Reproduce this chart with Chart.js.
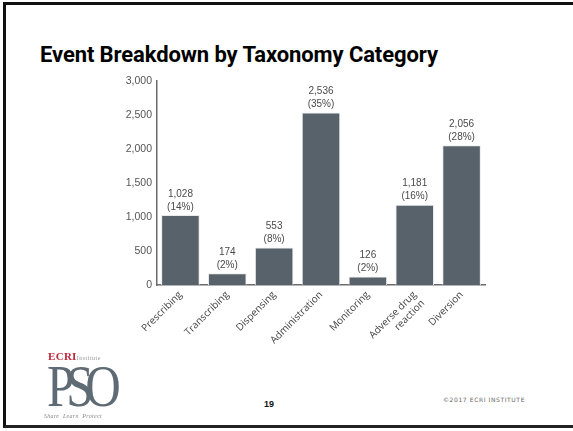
<!DOCTYPE html>
<html>
<head>
<meta charset="utf-8">
<script src="https://cdn.jsdelivr.net/npm/chart.js@4/dist/chart.umd.min.js"></script>
<style>
  html, body { margin: 0; padding: 0; background: #fff; }
  .slide { position: relative; width: 573px; height: 431px; overflow: hidden; background: #fff; }
  .frame { position: absolute; left: 3px; top: 2px; width: 580px; height: 420px; border-top: 3px solid #111; border-left: 3px solid #111; border-bottom: 3px solid #222; }
  .title { position: absolute; left: 40px; top: 42px; font: bold 22px Roboto, "Liberation Sans", sans-serif; color: #000; letter-spacing: -0.1px; }
  #wrap { position: absolute; left: 100px; top: 60px; width: 400px; height: 300px; }
  .page { position: absolute; left: 264px; top: 399px; font: bold 9px "Liberation Sans", Arial, sans-serif; color: #111; }
  .copy { position: absolute; left: 443px; top: 396px; font: 6px "DejaVu Sans", sans-serif; color: #666; letter-spacing: 0.6px; }
  .logo { position: absolute; left: 44px; top: 350px; width: 74px; }
  .ecri { font: bold 11px "Liberation Serif", serif; color: #c0273a; letter-spacing: 0.3px; margin-left: 4px; }
  .ecri span { font: 6px "Liberation Serif", serif; color: #999; font-weight: normal; letter-spacing: 0.5px; }
  .pso { font: 60px "Liberation Serif", serif; color: #5f6b74; line-height: 48px; letter-spacing: -10px; transform: scaleX(0.82); transform-origin: left top; margin-left: 3px; }
  .tag { font: italic 6px "Liberation Serif", serif; color: #888; margin-top: 3px; letter-spacing: 0.3px; }
</style>
</head>
<body>
<div class="slide">
  <div class="frame"></div>
  <div class="title">Event Breakdown by Taxonomy Category</div>
  <div id="wrap"><canvas id="bar"></canvas></div>
  <div class="logo">
    <div class="ecri">ECRI<span>Institute</span></div>
    <div class="pso">PSO</div>
    <div class="tag">Share &nbsp;Learn &nbsp;Protect</div>
  </div>
  <div class="page">19</div>
  <div class="copy">©2017 ECRI INSTITUTE</div>
</div>
<script>
const categories = ["Prescribing", "Transcribing", "Dispensing", "Administration", "Monitoring", ["Adverse drug", "reaction"], "Diversion"];
const events = [1028, 174, 553, 2536, 126, 1181, 2056];
const percents = ["14%", "2%", "8%", "35%", "2%", "16%", "28%"];
const yTicks = [0, 500, 1000, 1500, 2000, 2500, 3000];

const ctx = document.getElementById("bar");

// draws "1,028" and "(14%)" above each bar
const valueLabels = {
  id: "valueLabels",
  afterDatasetsDraw(chart) {
    const c = chart.ctx;
    const meta = chart.getDatasetMeta(0);
    c.save();
    c.font = "10px 'Liberation Sans', Arial, sans-serif";
    c.fillStyle = "#4a4a4a";
    c.textAlign = "center";
    c.textBaseline = "bottom";
    meta.data.forEach((bar, i) => {
      c.fillText(events[i].toLocaleString("en-US"), bar.x, bar.y - 16);
      c.fillText("(" + percents[i] + ")", bar.x, bar.y - 3);
    });
    c.restore();
  },
};

new Chart(ctx, {
  type: "bar",
  data: {
    labels: categories,
    datasets: [
      {
        label: "Events",
        data: events,
        backgroundColor: "#58626b",
        borderColor: "#e8eaec",
        borderWidth: 1,
        barPercentage: 0.84,
        categoryPercentage: 0.98,
      },
    ],
  },
  options: {
    responsive: true,
    maintainAspectRatio: false,
    animation: false,
    layout: { padding: { top: 21, right: 15, left: 0, bottom: 0 } },
    plugins: { legend: { display: false }, tooltip: { enabled: false } },
    scales: {
      y: {
        min: 0,
        max: 3000,
        afterBuildTicks: (axis) => { axis.ticks = yTicks.map((v) => ({ value: v })); },
        afterFit: (axis) => { axis.width = 57; },
        grid: { display: false, drawTicks: false },
        border: { display: true, color: "#6b6b6b", width: 1.5 },
        ticks: {
          padding: 5,
          color: "#555",
          font: { size: 10.5, family: "'Liberation Sans', Arial, sans-serif" },
          callback: (v) => v.toLocaleString("en-US"),
        },
      },
      x: {
        afterFit: (axis) => { axis.height = 75; },
        grid: { display: false, drawTicks: false },
        border: { display: true, color: "#6b6b6b", width: 1.5 },
        ticks: {
          minRotation: 45,
          maxRotation: 45,
          padding: 4,
          color: "#444",
          font: { size: 10, family: "'Open Sans', sans-serif" },
        },
      },
    },
  },
  plugins: [valueLabels],
});
</script>
</body>
</html>
